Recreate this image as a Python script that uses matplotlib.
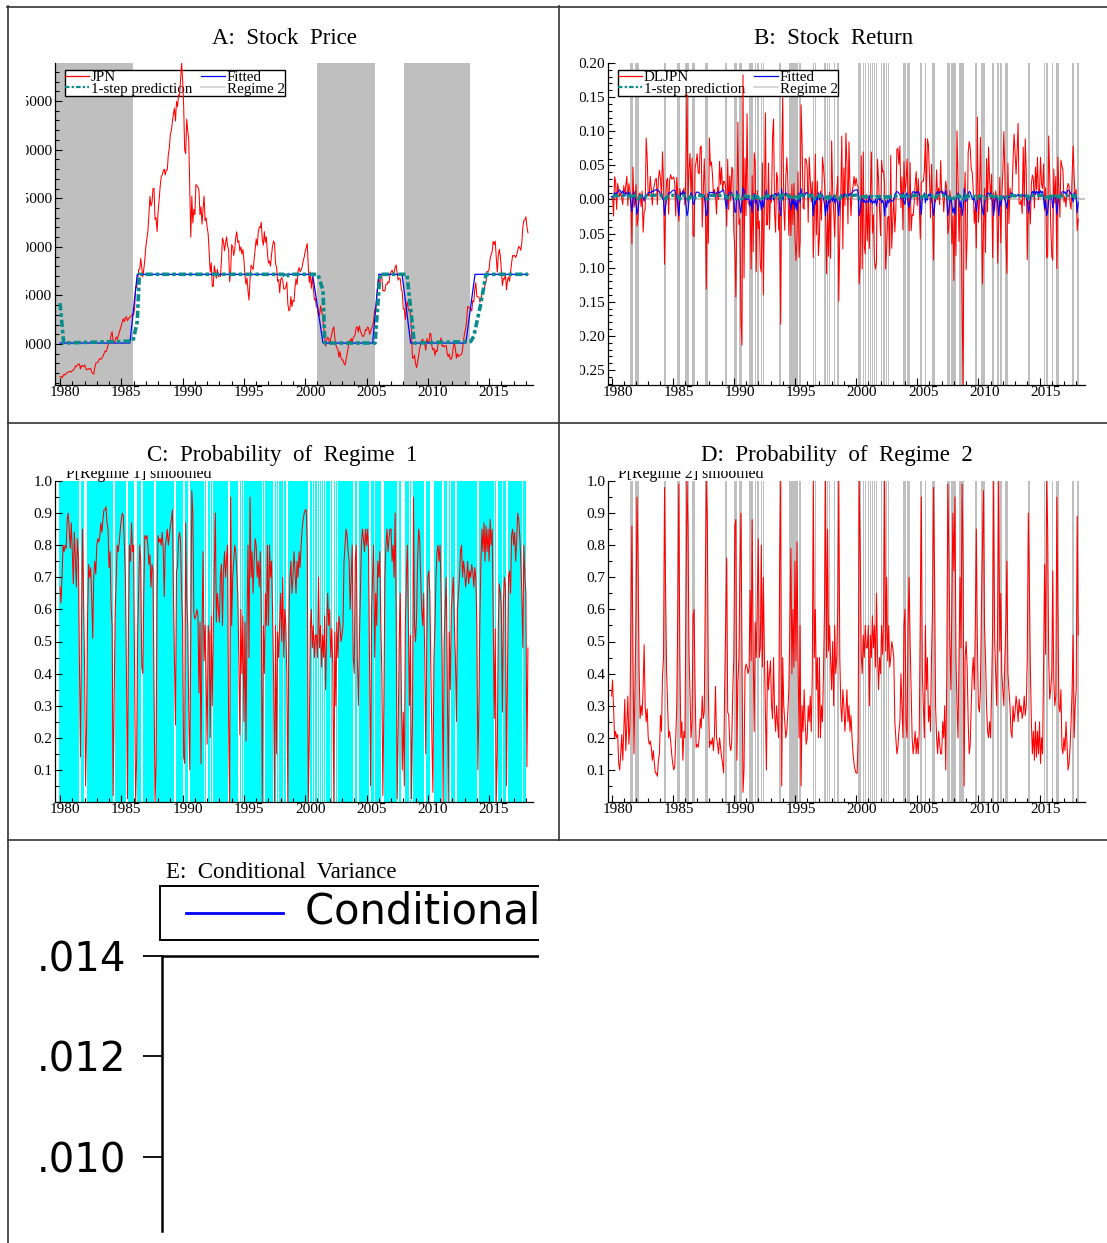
import numpy as np
import matplotlib.pyplot as plt
from matplotlib.lines import Line2D
from matplotlib.patches import Rectangle
from matplotlib.ticker import FixedLocator, MultipleLocator, FormatStrFormatter, FuncFormatter
from matplotlib.transforms import Bbox, TransformedBbox, ScaledTranslation

plt.rcParams["font.family"] = ["Liberation Serif", "DejaVu Serif"]
plt.rcParams["axes.unicode_minus"] = False

# ---------------------------------------------------------------------------
# Monthly data, 1980:01 - 2018:03
# ---------------------------------------------------------------------------
jpn_1980s = [
    6630, 6660, 6500, 6720, 6900, 6800, 6960, 7060, 7090, 7160, 7170, 7116,
    7260, 7320, 7470, 7730, 7660, 7840, 7950, 7930, 7430, 7790, 7700, 7681,
    7850, 7550, 7340, 7400, 7470, 7390, 7480, 7130, 7000, 6900, 7550, 8017,
    8060, 8100, 8380, 8500, 8430, 8550, 8730, 8990, 9270, 9200, 9480, 9894,
    10200, 10230, 10970, 11250, 10230, 10120, 10400, 10730, 10500, 10800, 11200, 11543,
    11900, 12300, 12600, 12300, 12700, 12800, 12400, 12600, 12700, 12800, 12900, 13113,
    13000, 13600, 15860, 15800, 16500, 17650, 17700, 18800, 17850, 16900, 17700, 18701,
    20000, 20800, 21600, 23300, 25200, 24200, 24500, 26000, 26000, 22800, 23000, 21564,
    23600, 24800, 26200, 27200, 27400, 27800, 28000, 27400, 27900, 27900, 29500, 30159,
    31600, 31985, 32839, 33713, 34266, 32948, 34954, 34431, 35636, 35549, 37269, 38916,
]
jpn_1990s = [
    37189, 34592, 29980, 29585, 33131, 31940, 31036, 25978, 20984, 25194, 22455, 23849,
    23293, 26409, 26292, 26111, 25790, 23291, 24121, 22335, 23916, 25222, 22687, 22984,
    22023, 21339, 19346, 17391, 18348, 15952, 15910, 18061, 17399, 16767, 17684, 16925,
    17024, 16953, 18591, 20919, 20552, 19590, 20380, 21027, 20106, 19704, 16408, 17417,
    20229, 19997, 19112, 19725, 20974, 21552, 20449, 20629, 19564, 19990, 19263, 19723,
    18650, 17053, 16140, 16807, 15437, 14517, 16678, 18117, 17913, 17655, 18744, 19868,
    20813, 20125, 21407, 22041, 21956, 22531, 20693, 20167, 21556, 20467, 21020, 19361,
    18330, 18557, 18003, 19151, 20069, 20605, 20331, 18229, 17888, 16459, 16636, 15259,
    16628, 16832, 16527, 15641, 15671, 15831, 16379, 14108, 13406, 13565, 14884, 13842,
    14499, 14368, 15837, 16702, 16112, 17530, 17862, 17437, 17605, 17942, 18558, 18934,
]
jpn_2000s = [
    19540, 19960, 20337, 17974, 16332, 17411, 15727, 16861, 15747, 14539, 14649, 13786,
    13844, 12884, 12999, 13934, 13262, 12969, 11861, 10713, 9775, 10367, 10697, 10543,
    9998, 10587, 11025, 11493, 11764, 10622, 9877, 9619, 9383, 8640, 9216, 8579,
    8340, 8363, 7973, 7831, 8425, 9083, 9563, 10344, 10219, 10560, 10101, 10677,
    10784, 11042, 11715, 11762, 11236, 11859, 11326, 11082, 10824, 10771, 11031, 11489,
    11388, 11741, 11668, 11009, 11277, 11584, 11900, 12414, 13574, 13607, 14872, 16111,
    16650, 16205, 17060, 16906, 15467, 15505, 15457, 16141, 16128, 16399, 16274, 17226,
    17383, 17604, 17288, 17400, 17876, 18138, 17249, 16569, 16786, 16738, 15681, 15308,
    13592, 13603, 12526, 13850, 14339, 13481, 13377, 13073, 11260, 8577, 8512, 8860,
    7994, 7568, 8110, 8828, 9523, 9958, 10357, 10493, 10133, 10035, 9345, 10546,
]
jpn_2010s = [
    10198, 10126, 11090, 11057, 9769, 9383, 9537, 8824, 9369, 9202, 9937, 10229,
    10238, 10624, 9755, 9850, 9694, 9816, 9833, 8955, 8700, 8988, 8434, 8455,
    8803, 9723, 10084, 9521, 8543, 9007, 8695, 8840, 8870, 8928, 9446, 10395,
    11139, 11559, 12398, 13861, 13775, 13677, 13668, 13389, 14456, 14328, 15662, 16291,
    14915, 14841, 14828, 14304, 14632, 15162, 15621, 15425, 16174, 16414, 17460, 17451,
    17674, 18798, 19207, 19520, 20563, 20236, 20585, 18890, 17388, 19083, 19747, 19034,
    17518, 16027, 16759, 16666, 17235, 15576, 16569, 16887, 16450, 17425, 18308, 19114,
    19041, 19119, 18909, 19197, 19651, 20033, 19925, 19646, 20356, 22012, 22725, 22765,
    23098, 22068, 21454,
]

# P[Regime 2] smoothed, same months
p2_1980s = [
    0.33, 0.38, 0.29, 0.20, 0.22, 0.20, 0.21, 0.12, 0.10, 0.15, 0.21, 0.13,
    0.22, 0.32, 0.16, 0.24, 0.33, 0.18, 0.24, 0.57, 0.86, 0.46, 0.15, 0.37,
    0.57, 0.95, 0.76, 0.42, 0.26, 0.30, 0.27, 0.36, 0.49, 0.30, 0.25, 0.29,
    0.20, 0.18, 0.19, 0.17, 0.13, 0.16, 0.12, 0.09, 0.09, 0.08, 0.13, 0.15,
    0.27, 0.22, 0.39, 0.45, 0.98, 0.67, 0.41, 0.30, 0.20, 0.22, 0.19, 0.15,
    0.12, 0.10, 0.11, 0.20, 0.30, 0.59, 0.99, 0.46, 0.20, 0.25, 0.13, 0.22,
    0.20, 0.62, 1.00, 0.86, 0.47, 0.33, 0.20, 0.25, 0.58, 0.60, 0.35, 0.17,
    0.18, 0.17, 0.20, 0.26, 0.23, 0.33, 0.26, 0.28, 0.66, 1.00, 0.88, 0.35,
    0.17, 0.19, 0.18, 0.20, 0.16, 0.21, 0.36, 0.20, 0.18, 0.15, 0.20, 0.17,
    0.14, 0.12, 0.09, 0.35, 0.55, 0.76, 0.28, 0.27, 0.18, 0.16, 0.19, 0.35,
]
p2_1990s = [
    0.45, 0.86, 0.88, 0.13, 0.37, 0.45, 0.72, 0.90, 0.46, 0.03, 0.10, 0.41,
    0.43, 0.42, 0.40, 0.42, 0.66, 0.44, 0.88, 0.47, 0.22, 0.56, 0.45, 0.62,
    0.82, 0.45, 0.48, 0.80, 0.42, 0.70, 0.46, 0.27, 0.10, 0.44, 0.35, 0.40,
    0.44, 0.30, 0.26, 0.45, 0.28, 0.22, 0.30, 0.24, 0.20, 0.75, 1.00, 0.05,
    0.45, 0.30, 0.25, 0.20, 0.22, 0.28, 0.35, 0.55, 0.79, 0.40, 0.60, 0.42,
    0.75, 0.44, 0.81, 0.45, 0.20, 0.55, 0.05, 0.30, 0.22, 0.35, 0.25, 0.18,
    0.20, 0.30, 0.25, 0.33, 0.22, 0.40, 1.00, 0.45, 0.60, 0.35, 0.45, 0.20,
    0.45, 0.20, 0.30, 0.25, 0.40, 0.60, 1.00, 0.45, 0.85, 0.47, 0.55, 0.44,
    0.35, 0.50, 0.30, 0.55, 0.40, 0.45, 0.60, 1.00, 0.45, 0.30, 0.25, 0.35,
    0.30, 0.22, 0.28, 0.35, 0.25, 0.30, 0.22, 0.27, 0.20, 0.15, 0.12, 0.10,
]
p2_2000s = [
    0.09, 0.09, 0.20, 1.00, 0.80, 0.46, 0.40, 0.52, 0.45, 0.55, 0.48, 0.48,
    0.55, 0.30, 0.52, 0.45, 0.58, 0.48, 0.55, 0.42, 0.65, 0.46, 0.35, 0.45,
    0.40, 0.55, 0.46, 0.58, 1.00, 0.47, 0.70, 0.44, 0.55, 0.42, 0.45, 0.50,
    0.48, 0.45, 0.25, 0.20, 0.15, 0.17, 0.22, 0.25, 0.40, 0.30, 0.20, 0.55,
    0.60, 0.25, 0.20, 0.55, 0.70, 0.50, 0.35, 0.20, 0.15, 0.18, 0.22, 0.15,
    0.20, 0.15, 0.22, 0.60, 0.95, 0.40, 0.30, 0.20, 0.55, 0.35, 0.45, 0.25,
    0.30, 0.22, 0.45, 0.60, 0.98, 0.70, 0.30, 0.20, 0.15, 0.22, 0.18, 0.15,
    0.15, 0.25, 0.20, 0.30, 0.10, 0.40, 0.99, 0.78, 0.50, 0.35, 0.62, 0.90,
    0.72, 0.95, 0.45, 0.30, 0.20, 0.45, 0.70, 0.48, 0.99, 0.75, 0.05, 0.45,
    0.50, 0.42, 0.25, 0.15, 0.18, 0.30, 0.40, 0.45, 0.35, 0.55, 0.85, 0.50,
]
p2_2010s = [
    0.30, 0.28, 0.35, 0.60, 0.80, 0.97, 0.55, 0.45, 0.30, 0.22, 0.20, 0.25,
    0.20, 0.35, 0.55, 1.00, 0.50, 0.40, 0.30, 0.60, 1.00, 0.47, 0.65, 0.40,
    0.35, 0.30, 0.45, 0.55, 0.75, 0.40, 0.35, 0.30, 0.22, 0.20, 0.30, 0.25,
    0.28, 0.33, 0.30, 0.25, 0.32, 0.28, 0.30, 0.26, 0.28, 0.33, 0.27, 0.30,
    0.45, 0.90, 0.70, 0.42, 0.25, 0.15, 0.22, 0.13, 0.25, 0.14, 0.22, 0.15,
    0.25, 0.12, 0.20, 0.15, 0.42, 0.74, 0.46, 1.00, 0.85, 0.45, 0.32, 0.35,
    0.40, 0.72, 0.38, 0.30, 0.33, 0.95, 0.60, 0.30, 0.28, 0.35, 0.17, 0.15,
    0.20, 0.16, 0.25, 0.18, 0.10, 0.12, 0.17, 0.25, 0.35, 0.52, 0.20, 0.30,
    0.35, 0.89, 0.52,
]

# Panel A: price-level model, regime 2 periods and fitted / 1-step paths
a_reg2_start = [1979.6, 2000.96, 2008.06]
a_reg2_end = [1985.95, 2005.7, 2013.44]
a_fit_years = [1980.0, 1985.7, 1986.3, 2000.6, 2001.45, 2005.5, 2006.0,
               2007.9, 2008.6, 2013.1, 2013.85, 2018.17]
a_fit_vals = [10100, 10100, 17170, 17170, 10100, 10100, 17170,
              17170, 10100, 10100, 17170, 17170]
a_pred_years = [1980.0, 1980.3, 1985.95, 1986.3, 1986.47, 1998.2, 1998.4,
                1998.7, 2001.04, 2001.45, 2001.6, 2005.7, 2006.1, 2008.3,
                2008.9, 2013.5, 2013.75, 2014.3, 2014.75, 2018.17]
a_pred_vals = [14200, 10100, 10300, 12300, 17170, 17170, 16850,
               17170, 17170, 15500, 10100, 10100, 17170, 17170,
               10100, 10250, 10800, 14000, 17170, 17170]

# Panel B: regime means and transition probabilities of the return model
mu1, mu2 = 0.018, -0.024
p11, p21 = 0.74, 0.58

jpn = np.array(jpn_1980s + jpn_1990s + jpn_2000s + jpn_2010s, dtype=float)
p2 = np.array(p2_1980s + p2_1990s + p2_2000s + p2_2010s)
p1 = 1 - p2
t = 1980 + np.arange(len(jpn)) / 12
dljpn = np.diff(np.log(jpn))
fitted_b = p1 * mu1 + p2 * mu2
q1 = p11 * p1[:-1] + p21 * p2[:-1]
pred_b = q1 * mu1 + (1 - q1) * mu2
reg2 = p2 > 0.5

# ---------------------------------------------------------------------------
W, H = 1107, 1243
fig = plt.figure(figsize=(W / 100, H / 100), dpi=100)

band_gray = "#bfbfbf"
teal = "#0a8c8c"


def px_axes(x0, y0, x1, y1):
    return fig.add_axes([x0 / W, 1 - y1 / H, (x1 - x0) / W, (y1 - y0) / H])


def time_axis(ax, xlim):
    ax.set_xlim(xlim)
    ax.spines[["top", "right"]].set_visible(False)
    ax.spines[["left", "bottom"]].set_linewidth(0.9)
    ax.xaxis.set_major_locator(FixedLocator(np.arange(1980, 2016, 5)))
    ax.xaxis.set_minor_locator(MultipleLocator(1))
    ax.xaxis.set_major_formatter(FormatStrFormatter("%d"))
    ax.tick_params(which="both", direction="in", labelsize=11, width=0.8)
    ax.tick_params(which="major", length=5)
    ax.tick_params(which="minor", length=3)
    ax.tick_params(axis="x", pad=1)
    ax.tick_params(axis="y", pad=2)


def shift_xlabels(ax, dx):
    off = ScaledTranslation(dx / 100, 0, fig.dpi_scale_trans)
    for tick in ax.xaxis.get_major_ticks():
        tick.label1.set_transform(tick.label1.get_transform() + off)


def regime_legend(ax, first_label):
    handles = [
        Line2D([], [], color="red", lw=0.9),
        Line2D([], [], color=teal, lw=1.6, ls=(0, (2, 1, 1, 1))),
        Line2D([], [], color="blue", lw=0.9),
        Line2D([], [], color="#cfcfcf", lw=1.2),
    ]
    labels = [first_label, "1-step prediction", "Fitted", "Regime 2"]
    leg = ax.legend(handles, labels, ncol=2, loc="upper left",
                    bbox_to_anchor=(0.021, 0.978), borderaxespad=0,
                    fancybox=False, edgecolor="black", framealpha=1,
                    fontsize=10.8, labelspacing=-0.12, handlelength=1.6,
                    handletextpad=0.1, columnspacing=0.6, borderpad=0.02)
    leg.get_frame().set_linewidth(1.0)
    leg.set_zorder(1.5)


# ---- A: Stock Price ----
axA = px_axes(55, 63, 533, 385)
time_axis(axA, (1979.59, 2018.58))
axA.set_ylim(5780, 38916)
axA.yaxis.set_major_locator(MultipleLocator(5000))
axA.yaxis.set_minor_locator(MultipleLocator(1000))
axA.yaxis.set_major_formatter(FormatStrFormatter("%d"))
for s, e in zip(a_reg2_start, a_reg2_end):
    axA.axvspan(s, e, color=band_gray, lw=0, zorder=1)
axA.plot(t, jpn, color="red", lw=0.75, zorder=2)
axA.plot(a_fit_years, a_fit_vals, color="blue", lw=0.9, zorder=3)
axA.plot(a_pred_years, a_pred_vals, color=teal, lw=2.6, ls=(0, (2, 0.8, 1, 0.8)), zorder=4)
regime_legend(axA, "JPN")

# ---- B: Stock Return ----
axB = px_axes(608, 63, 1085, 385)
time_axis(axB, (1979.71, 2018.72))
yb = (-0.272, 0.20)
axB.set_ylim(yb)
axB.yaxis.set_major_locator(FixedLocator([-0.25, -0.20, -0.15, -0.10, -0.05,
                                          0.0, 0.05, 0.10, 0.15, 0.20]))
axB.yaxis.set_minor_locator(MultipleLocator(0.01))
axB.yaxis.set_major_formatter(FormatStrFormatter("%.2f"))
axB.bar(t[reg2], yb[1] - yb[0], bottom=yb[0], width=1.4 / 12, color=band_gray,
        lw=0, zorder=1)
axB.axhline(0, color="#c4c4c4", lw=1.5, zorder=1.2)
axB.plot(t[1:], dljpn, color="red", lw=0.75, zorder=2)
axB.plot(t, fitted_b, color="blue", lw=0.8, zorder=3)
axB.plot(t[1:], pred_b, color=teal, lw=2.4, ls=(0, (2, 0.8, 1, 0.8)), zorder=4)
regime_legend(axB, "DLJPN")

# ---- C: Probability of Regime 1 ----
axC = px_axes(55, 481, 533, 802)
time_axis(axC, (1979.59, 2018.58))
axC.set_ylim(0, 1)
axC.yaxis.set_major_locator(FixedLocator(np.round(np.arange(0.1, 1.01, 0.1), 1)))
axC.yaxis.set_minor_locator(MultipleLocator(0.05))
axC.yaxis.set_major_formatter(FormatStrFormatter("%.1f"))
axC.bar(t[~reg2], 1.0, width=1.15 / 12, color="#00ffff", lw=0, zorder=1)
axC.plot(t, p1, color="red", lw=0.75, zorder=2)

# ---- D: Probability of Regime 2 ----
axD = px_axes(608, 481, 1085, 802)
time_axis(axD, (1979.71, 2018.72))
axD.set_ylim(0, 1)
axD.yaxis.set_major_locator(FixedLocator(np.round(np.arange(0.1, 1.01, 0.1), 1)))
axD.yaxis.set_minor_locator(MultipleLocator(0.05))
axD.yaxis.set_major_formatter(FormatStrFormatter("%.1f"))
axD.bar(t[reg2], 1.0, width=1.4 / 12, color=band_gray, lw=0, zorder=1)
axD.plot(t, p2, color="red", lw=0.75, zorder=2)

for ax in (axA, axC):
    shift_xlabels(ax, 5)
for ax in (axB, axD):
    shift_xlabels(ax, 6)

# panel titles
title_kw = dict(ha="center", va="center", fontsize=16.5)
fig.text(284 / W, 1 - 38 / H, "A:  Stock  Price", **title_kw)
fig.text(834 / W, 1 - 38 / H, "B:  Stock  Return", **title_kw)
fig.text(282 / W, 1 - 455 / H, "C:  Probability  of  Regime  1", **title_kw)
fig.text(837 / W, 1 - 455 / H, "D:  Probability  of  Regime  2", **title_kw)

# series labels, top half hidden under the title band
clip = TransformedBbox(Bbox([[0, 0], [1, 1 - 470.5 / H]]), fig.transFigure)
for x, lab in [(66, "P[Regime 1] smoothed"), (618, "P[Regime 2] smoothed")]:
    txt = fig.text(x / W, 1 - 478 / H, lab, ha="left", va="baseline", fontsize=11.3)
    txt.set_clip_box(clip)
    txt.set_clip_on(True)

# ---- E: Conditional Variance (cropped) ----
axE = px_axes(162, 956, 538, 1231)
axE.set_ylim(0.00852, 0.014)
axE.set_xticks([])
axE.spines[["bottom", "right"]].set_visible(False)
axE.spines[["left", "top"]].set_linewidth(1.8)
axE.yaxis.set_major_locator(FixedLocator([0.010, 0.012, 0.014]))
axE.yaxis.set_major_formatter(FuncFormatter(lambda v, _: f"{v:.3f}"[1:]))
axE.tick_params(axis="y", direction="out", length=14, width=1.3, pad=12,
                labelsize=29, labelfontfamily="DejaVu Sans")

fig.text(166 / W, 1 - 872 / H, "E:  Conditional  Variance", ha="left",
         va="center", fontsize=16.5)
fig.add_artist(Rectangle((160 / W, 1 - 940 / H), 640 / W, 54 / H,
                         transform=fig.transFigure, facecolor="white",
                         edgecolor="black", lw=1.4, zorder=5))
fig.add_artist(Line2D([186 / W, 283 / W], [1 - 913 / H, 1 - 913 / H],
                      transform=fig.transFigure, color="blue", lw=2.0, zorder=6))
fig.text(305 / W, 1 - 911 / H, "Conditional Variance", ha="left", va="center",
         fontsize=30, family="DejaVu Sans", zorder=6)

# cropping masks
mask_kw = dict(transform=fig.transFigure, facecolor="white", edgecolor="none",
               zorder=10)
fig.add_artist(Rectangle((10 / W, 1 - 400 / H), 15.5 / W, 345 / H, **mask_kw))
fig.add_artist(Rectangle((561 / W, 1 - 400 / H), 18.5 / W, 345 / H, **mask_kw))
fig.add_artist(Rectangle((539 / W, 0), 568 / W, 1 - 845 / H, **mask_kw))

# cell borders
border_kw = dict(transform=fig.transFigure, color="#333333", lw=1.2, zorder=11)
for (x0, y0, x1, y1) in [(7, 6.5, 1107, 6.5), (8, 6, 8, 1243),
                         (559, 6, 559, 840), (8, 423, 1107, 423),
                         (8, 840, 1107, 840)]:
    fig.add_artist(Line2D([x0 / W, x1 / W], [1 - y0 / H, 1 - y1 / H], **border_kw))

fig.savefig("out.png", dpi=100)
